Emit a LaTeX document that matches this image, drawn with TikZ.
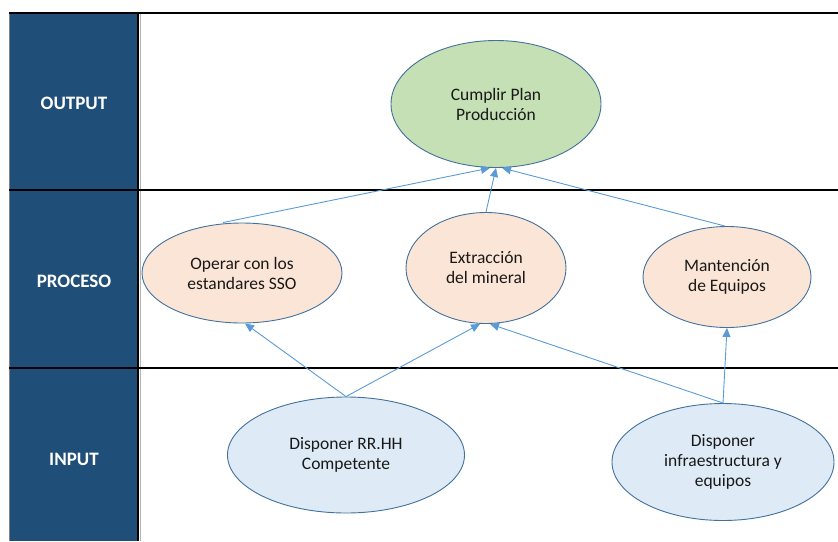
\documentclass[tikz,border=0pt]{standalone}
\usepackage{fontspec}
\setmainfont{Carlito}
\usetikzlibrary{shapes.geometric,arrows.meta}
\definecolor{bandblue}{HTML}{1F4E79}
\definecolor{edgeblue}{HTML}{41719C}
\definecolor{arrowblue}{HTML}{5B9BD5}
\definecolor{outfill}{HTML}{C5E0B4}
\definecolor{procfill}{HTML}{FBE5D6}
\definecolor{infill}{HTML}{DEEBF7}
\tikzset{
  oval/.style={ellipse, draw=edgeblue, line width=0.9pt, inner sep=0pt, align=center,
    font=\fontsize{17.5}{20}\selectfont, text=black!90},
  rowlabel/.style={font=\fontsize{19}{22}\selectfont\bfseries, text=white},
  sepline/.style={black, line width=2.6pt},
  flow/.style={arrowblue, line width=0.9pt, -{Triangle[length=9pt,width=8pt]}}
}
\begin{document}
\begin{tikzpicture}[x=1pt,y=-1pt]
  \useasboundingbox (0,0) rectangle (838,541);
  % left band with the row titles
  \fill[bandblue] (9,13) rectangle (138,541);
  \draw[gray, line width=1pt] (9,13) -- (9,541);
  \draw[gray!60, line width=1pt] (140,13) -- (140,541);
  \draw[black, line width=1.5pt] (138,13) -- (138,541);
  \draw[black, line width=1.3pt] (9,13) -- (838,13);
  \draw[sepline] (9,190) -- (838,190);
  \draw[sepline] (9,368) -- (838,368);
  \node[rowlabel] (lout) at (74,103) {OUTPUT};
  \node[rowlabel] (lpro) at (74,281) {PROCESO};
  \node[rowlabel] (lin)  at (74,459) {INPUT};

  % output
  \node[oval, fill=outfill, minimum width=210pt, minimum height=127pt] (cum) at (496,104)
    {Cumplir Plan\\Producción};
  % process
  \node[oval, fill=procfill, minimum width=200pt, minimum height=100pt] (oper) at (242,273)
    {Operar con los\\estandares SSO};
  \node[oval, fill=procfill, minimum width=160pt, minimum height=111pt] (extr) at (486,268)
    {Extracción\\del mineral};
  \node[oval, fill=procfill, minimum width=168pt, minimum height=101pt] (mant) at (727,277)
    {Mantención\\de Equipos};
  % input
  \node[oval, fill=infill, minimum width=237pt, minimum height=116pt] (rrhh) at (346,455)
    {Disponer RR.HH\\Competente};
  \node[oval, fill=infill, minimum width=222pt, minimum height=117pt] (infra) at (723,462)
    {Disponer\\infraestructura y\\equipos};

  % connectors
  \draw[flow] ([xshift=-19pt]oper.north) -- ([xshift=-6pt]cum.south);
  \draw[flow] (extr.north) -- (cum.south);
  \draw[flow] ([xshift=-2pt]mant.north) -- ([xshift=6pt]cum.south);
  \draw[flow] (rrhh.north) -- ([xshift=3pt]oper.south);
  \draw[flow] (rrhh.north) -- ([xshift=-6pt]extr.south);
  \draw[flow] (infra.north) -- ([xshift=4pt]extr.south);
  \draw[flow] (infra.north) -- (mant.south);
\end{tikzpicture}
\end{document}
